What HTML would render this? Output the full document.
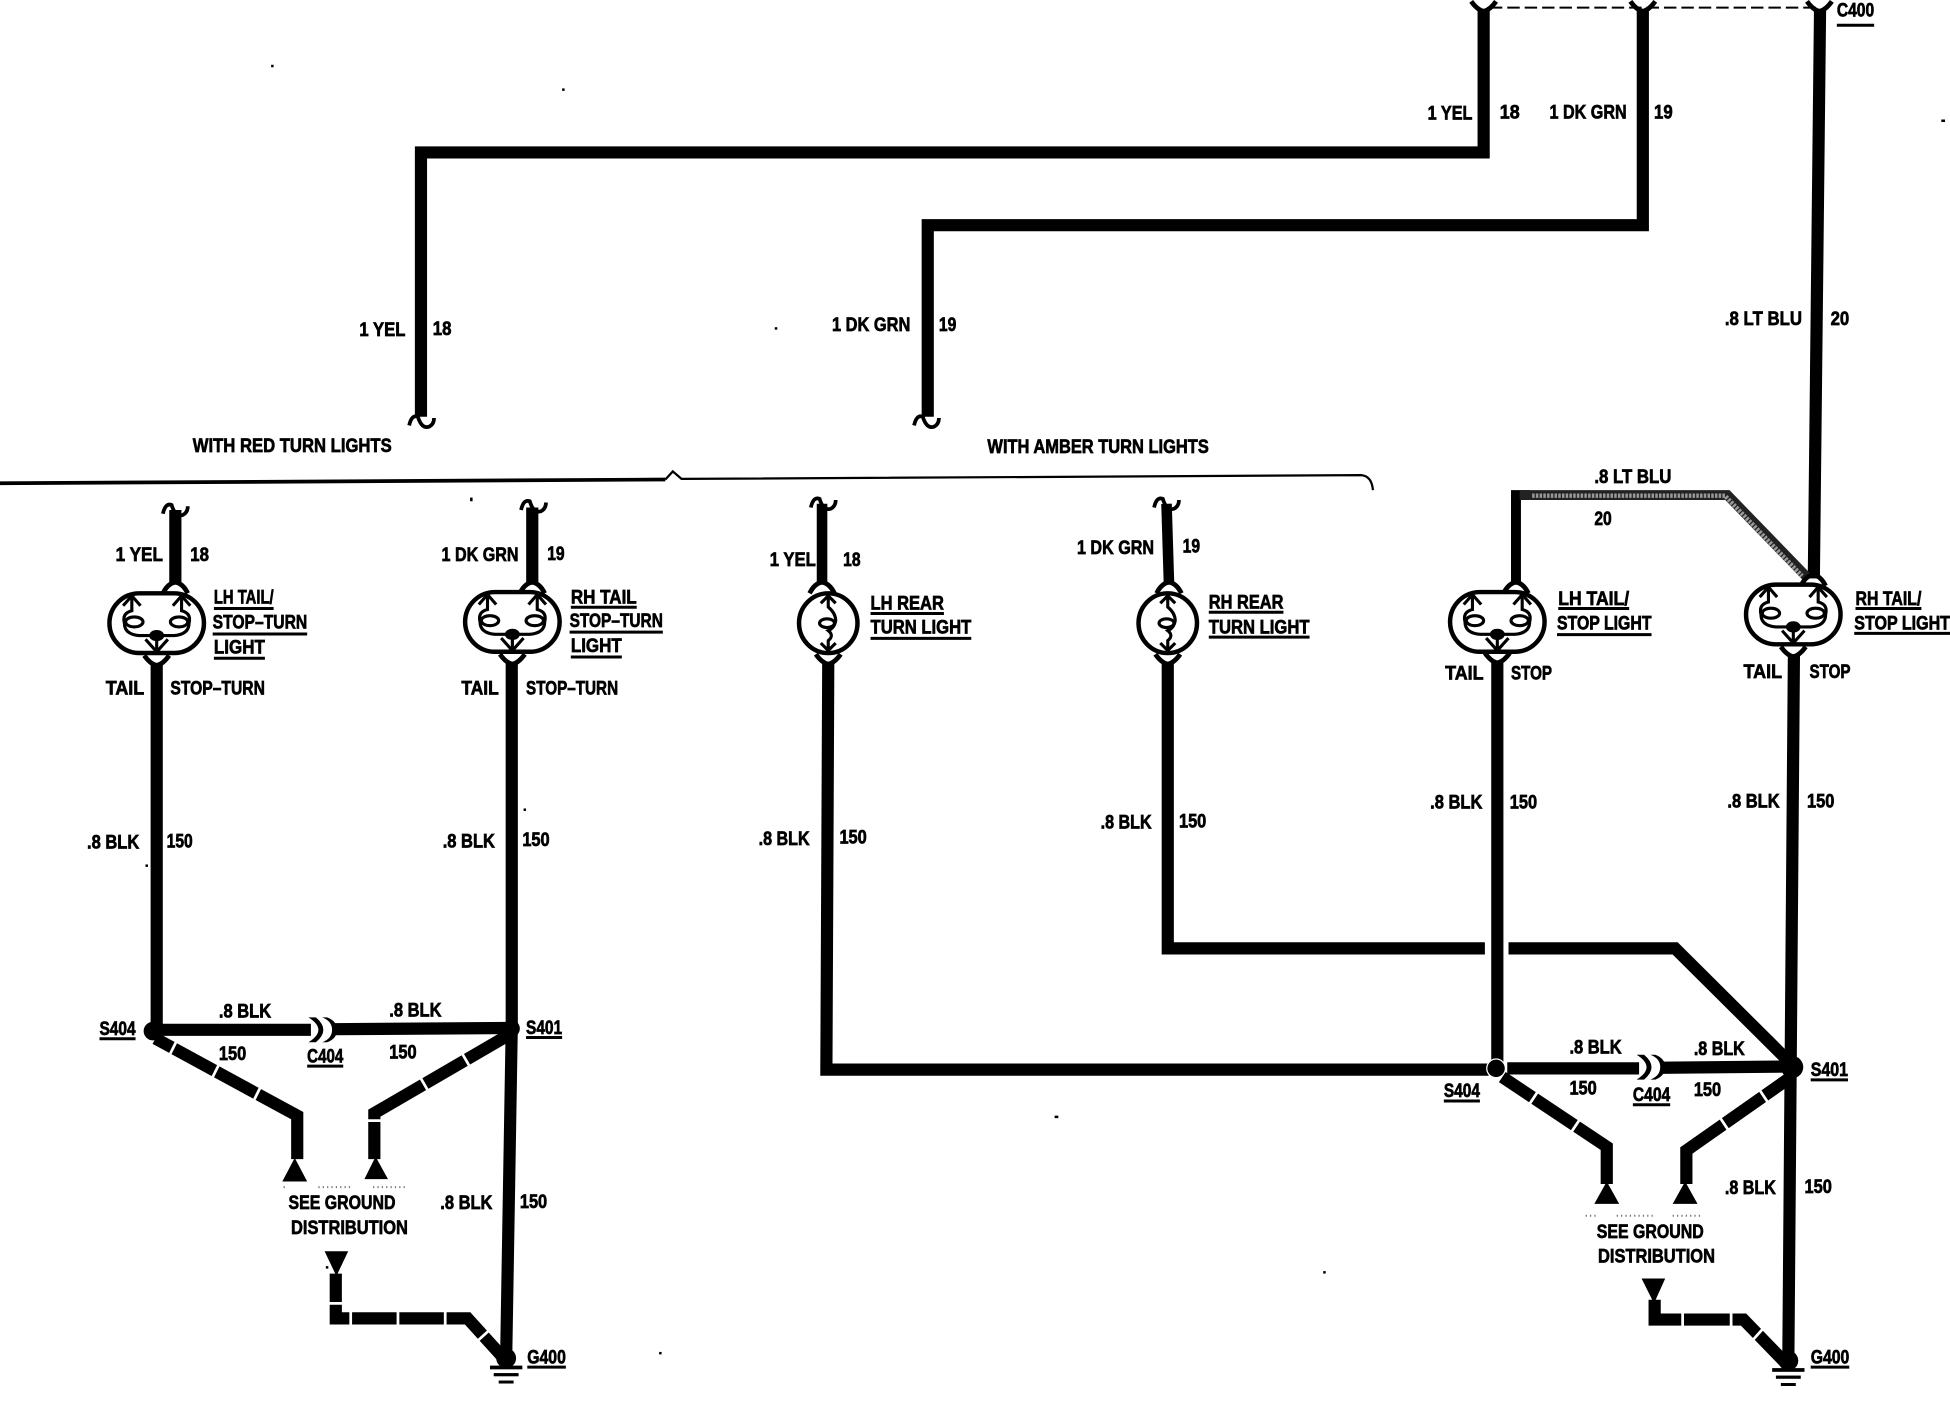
<!DOCTYPE html>
<html><head><meta charset="utf-8"><style>
html,body{margin:0;padding:0;background:#fff}
svg{display:block}
text{font-family:"Liberation Sans",sans-serif;font-weight:700;font-size:15.5px;fill:#000;stroke:#000;stroke-width:.55}
.w{fill:none;stroke:#000;stroke-width:9.8;stroke-linejoin:miter}
.g{fill:none;stroke:#fff;stroke-width:2.2}
.t{fill:none;stroke:#000;stroke-width:2.6}
.u{stroke:#000;stroke-width:2.4}
</style></head><body>
<svg width="1950" height="1408" viewBox="0 0 1568 1132" xmlns="http://www.w3.org/2000/svg">
<defs>
<g id="fd"><path class="t" d="M-10,4 Q-6,-4 0,-5 Q6,-4 10,4" style="stroke-width:3.8"/></g>
<g id="fu"><path class="t" d="M-10,-5 Q-5,2 0,3 Q5,2 10,-5" style="stroke-width:3.8"/></g>
<g id="hook"><path class="t" d="M-10,5 Q-8,-4 -3,-2 Q0,8 6,6 Q10,4 10,-1" style="stroke-width:3"/></g>
<g id="dbl">
<rect x="-38" y="-24" width="76" height="48" rx="24" ry="24" fill="#fff" stroke="#000" stroke-width="3.6"/>
<g fill="none" stroke="#000" stroke-width="2.5">
<path d="M-20,-23V-10Q-28,-8 -26,0Q-26,9 -14,10H-4"/><path d="M-27,-14L-20,-22L-13,-14"/>
<path d="M20,-23V-10Q28,-8 26,0Q26,9 14,10H4"/><path d="M13,-14L20,-22L27,-14"/>
<ellipse cx="-18" cy="-1" rx="7" ry="4"/><ellipse cx="18" cy="-1" rx="7" ry="4"/>
<path d="M-9,13L0,23L9,13M0,12V23"/></g>
<ellipse cx="0" cy="10" rx="6" ry="4.5" fill="#000"/>
</g>
<g id="sgl">
<ellipse rx="23.5" ry="24" fill="#fff" stroke="#000" stroke-width="3.6"/>
<g fill="none" stroke="#000" stroke-width="2.5">
<path d="M-6,-16L0,-22L6,-16M0,-22V-13Q6,-8 6,-2Q5,4 0,6Q5,10 0,14V22M-6,16L0,22L6,16"/>
<ellipse cx="-1" cy="0" rx="6" ry="3.5"/></g>
</g>
<g id="conn"><path d="M-9,-10 Q-1,-5 -1,0 Q-1,5 -9,10 L-3,10 Q3,5 3,0 Q3,-5 -3,-10Z" fill="#000" transform="translate(-1,0)"/><path d="M1,-10 Q9,-7 9,0 Q9,7 1,10 L5,10 Q13,7 13,0 Q13,-7 5,-10Z" fill="#000"/></g>
<g id="gnd"><circle r="8" cx="0" cy="0" fill="#000"/><rect x="-13" y="6" width="26" height="3"/><rect x="-10" y="12" width="20" height="2.6"/><rect x="-6" y="18" width="12" height="2.4"/></g>
</defs>

<path d="M0,388.5L535,385.5" fill="none" stroke="#000" stroke-width="3"/>
<path d="M535,385.5L541,379L548,385L1095,382Q1103,383 1104,394" fill="none" stroke="#000" stroke-width="1.8"/>

<path d="M1198,6H1463" fill="none" stroke="#000" stroke-width="1.6" stroke-dasharray="10 4"/>
<use href="#fu" x="1193" y="6"/><use href="#fu" x="1321" y="6"/><use href="#fu" x="1463" y="6"/>
<path class="w" d="M1193,8V122.5H338.5V335"/>
<path class="w" d="M1321,8V181H746V335"/>
<path class="w" d="M1463.5,8L1458.5,465" />
<use href="#hook" x="339" y="337"/>
<use href="#hook" x="745" y="337"/>

<path class="w" d="M141,410V470"/><path class="w" d="M428,408V470"/>
<path class="w" d="M661,405V470" style="stroke-width:8.5"/><path class="w" d="M938,405L940,470" style="stroke-width:8.5"/>
<use href="#hook" x="141" y="408"/><use href="#hook" x="429" y="405"/><use href="#hook" x="662" y="403"/><use href="#hook" x="938" y="403"/>

<path class="w" d="M1219,470V398H1230" style="stroke-width:8"/>
<path d="M1222,398H1389L1453,464" fill="none" stroke="#222" stroke-width="8"/>
<path d="M1232,398.5H1387L1449,463" fill="none" stroke="#999" stroke-width="3.6" stroke-dasharray="2 1"/>

<use href="#dbl" x="126" y="501"/><use href="#dbl" x="412" y="500"/>
<use href="#sgl" x="666" y="501"/><use href="#sgl" x="939" y="501"/>
<use href="#dbl" x="1204" y="500"/><use href="#dbl" x="1442" y="494"/>
<use href="#fd" x="141" y="473"/><use href="#fd" x="428" y="473"/><use href="#fd" x="661" y="473"/><use href="#fd" x="940" y="473"/><use href="#fd" x="1219" y="473"/><use href="#fd" x="1458" y="467"/>
<use href="#fu" x="126" y="532"/><use href="#fu" x="412" y="531"/><use href="#fu" x="666" y="531"/><use href="#fu" x="939" y="531"/><use href="#fu" x="1204" y="530"/><use href="#fu" x="1442" y="525"/>

<path class="w" d="M126,534V828"/>
<path class="w" d="M411.5,532V826L407,1092"/>
<path class="w" d="M123,828H250"/><path class="w" d="M268,827.5L411,826.5"/>
<use href="#conn" x="258" y="828"/>
<circle cx="123" cy="829" r="7.5"/><circle cx="411" cy="827" r="7"/>
<path class="w" d="M125,835L239,897V932"/>
<path class="w" d="M411,831L301,895V932"/>
<path class="g" d="M142,837L136,849M176,856L170,868M210,873L204,885M295,901H308M371,846L378,858M337.5,865.5L344.5,877.5"/>
<path d="M237,931L247,950H227Z"/><path d="M302,930L312,948H293Z"/>
<path d="M261,1006H280L270.5,1026Z"/>
<path class="w" d="M270,1024V1060H376L405,1092"/>
<path class="g" d="M263,1048H277M282,1052V1066M320,1052V1066M358,1052V1066M383,1079L393,1070"/>
<use href="#gnd" x="407" y="1092"/>

<path class="w" d="M666,533L664.5,860H1197"/>
<path class="w" d="M939,532V762.5H1194"/>
<path class="w" d="M1213,762.5H1347L1440,855"/>
<path class="w" d="M1204,532V858"/>
<path class="w" d="M1442.5,526L1438,1094"/>
<path class="w" d="M1212,859H1318"/><path class="w" d="M1336,858.5L1440,857.5"/>
<use href="#conn" x="1326" y="858"/>
<circle cx="1203" cy="859" r="7.5" fill="#000" stroke="#fff" stroke-width="1"/><circle cx="1441" cy="858" r="9"/>
<path class="w" d="M1208,866L1292,922V952"/>
<path class="w" d="M1440,866L1356,925V952"/>
<path class="g" d="M1237,877L1229,889M1271,899L1263,911M1382,897L1390,909M1414,875L1422,887"/>
<path d="M1292,950L1302,968H1282Z"/><path d="M1355,950L1365,968H1345Z"/>
<path d="M1320,1028H1339L1330,1048Z"/>
<path class="w" d="M1330.5,1045V1061H1402L1435,1095"/>
<path class="g" d="M1353,1053V1068M1392,1053V1068M1408,1079L1417,1069"/>
<use href="#gnd" x="1438" y="1094"/>

<g fill="none" stroke="#777" stroke-width="1.6" stroke-dasharray="1 2.5"><path d="M228,954.5H231M256,954.5H282M300,954.5H328"/><path d="M1275,977.5H1284M1300,977.5H1330M1345,977.5H1367"/></g>
<g fill="#000"><rect x="218" y="52" width="2" height="2"/><rect x="452" y="71" width="2" height="2"/><rect x="623" y="263" width="2" height="2"/><rect x="1561" y="96" width="3" height="2"/><rect x="848" y="897" width="3" height="2"/><rect x="1064" y="1022" width="2" height="2"/><rect x="262" y="1018" width="2" height="2"/><rect x="530" y="1087" width="2" height="2"/><rect x="378" y="400" width="2" height="3"/><rect x="117" y="695" width="2" height="2"/><rect x="421" y="650" width="2" height="2"/></g>

<g transform="translate(0,-0.8)">
<text x="1148" y="97" textLength="36" lengthAdjust="spacingAndGlyphs">1 YEL</text>
<text x="1206" y="96" textLength="16" lengthAdjust="spacingAndGlyphs">18</text>
<text x="1246" y="96" textLength="62" lengthAdjust="spacingAndGlyphs">1 DK GRN</text>
<text x="1330" y="96" textLength="15" lengthAdjust="spacingAndGlyphs">19</text>
<text x="1477" y="14" textLength="30" lengthAdjust="spacingAndGlyphs">C400</text><line class="u" x1="1477" x2="1507" y1="21" y2="21"/>
<text x="289" y="271" textLength="37" lengthAdjust="spacingAndGlyphs">1 YEL</text>
<text x="348" y="270" textLength="15" lengthAdjust="spacingAndGlyphs">18</text>
<text x="669" y="267" textLength="63" lengthAdjust="spacingAndGlyphs">1 DK GRN</text>
<text x="755" y="267" textLength="14" lengthAdjust="spacingAndGlyphs">19</text>
<text x="1387" y="262" textLength="62" lengthAdjust="spacingAndGlyphs">.8 LT BLU</text>
<text x="1472" y="262" textLength="15" lengthAdjust="spacingAndGlyphs">20</text>
<text x="155" y="364" textLength="160" lengthAdjust="spacingAndGlyphs">WITH RED TURN LIGHTS</text>
<text x="794" y="365" textLength="178" lengthAdjust="spacingAndGlyphs">WITH AMBER TURN LIGHTS</text>

<text x="93" y="452" textLength="38" lengthAdjust="spacingAndGlyphs">1 YEL</text>
<text x="153" y="452" textLength="15" lengthAdjust="spacingAndGlyphs">18</text>
<text x="355" y="452" textLength="62" lengthAdjust="spacingAndGlyphs">1 DK GRN</text>
<text x="440" y="451" textLength="14" lengthAdjust="spacingAndGlyphs">19</text>
<text x="619" y="456" textLength="37" lengthAdjust="spacingAndGlyphs">1 YEL</text>
<text x="678" y="456" textLength="14" lengthAdjust="spacingAndGlyphs">18</text>
<text x="866" y="446" textLength="62" lengthAdjust="spacingAndGlyphs">1 DK GRN</text>
<text x="951" y="445" textLength="14" lengthAdjust="spacingAndGlyphs">19</text>

<text x="172" y="486" textLength="48" lengthAdjust="spacingAndGlyphs">LH TAIL/</text><line class="u" x1="172" x2="220" y1="490" y2="490"/>
<text x="171" y="506" textLength="76" lengthAdjust="spacingAndGlyphs">STOP–TURN</text><line class="u" x1="171" x2="247" y1="510.5" y2="510.5"/>
<text x="172" y="526" textLength="41" lengthAdjust="spacingAndGlyphs">LIGHT</text><line class="u" x1="172" x2="213" y1="530" y2="530"/>
<text x="459" y="486" textLength="53" lengthAdjust="spacingAndGlyphs">RH TAIL</text><line class="u" x1="459" x2="512" y1="489" y2="489"/>
<text x="458" y="505" textLength="75" lengthAdjust="spacingAndGlyphs">STOP–TURN</text><line class="u" x1="458" x2="533" y1="509" y2="509"/>
<text x="459" y="525" textLength="41" lengthAdjust="spacingAndGlyphs">LIGHT</text><line class="u" x1="459" x2="500" y1="529" y2="529"/>
<text x="85" y="559" textLength="31" lengthAdjust="spacingAndGlyphs">TAIL</text>
<text x="137" y="559" textLength="76" lengthAdjust="spacingAndGlyphs">STOP–TURN</text>
<text x="371" y="559" textLength="30" lengthAdjust="spacingAndGlyphs">TAIL</text>
<text x="423" y="559" textLength="74" lengthAdjust="spacingAndGlyphs">STOP–TURN</text>
<text x="700" y="491" textLength="59" lengthAdjust="spacingAndGlyphs">LH REAR</text><line class="u" x1="700" x2="759" y1="494" y2="494"/>
<text x="700" y="510" textLength="81" lengthAdjust="spacingAndGlyphs">TURN LIGHT</text><line class="u" x1="700" x2="781" y1="514" y2="514"/>
<text x="972" y="490" textLength="60" lengthAdjust="spacingAndGlyphs">RH REAR</text><line class="u" x1="972" x2="1032" y1="493" y2="493"/>
<text x="972" y="510" textLength="81" lengthAdjust="spacingAndGlyphs">TURN LIGHT</text><line class="u" x1="972" x2="1053" y1="513" y2="513"/>
<text x="1253" y="487" textLength="57" lengthAdjust="spacingAndGlyphs">LH TAIL/</text><line class="u" x1="1253" x2="1310" y1="490" y2="490"/>
<text x="1252" y="507" textLength="76" lengthAdjust="spacingAndGlyphs">STOP LIGHT</text><line class="u" x1="1252" x2="1328" y1="511" y2="511"/>
<text x="1492" y="487" textLength="53" lengthAdjust="spacingAndGlyphs">RH TAIL/</text><line class="u" x1="1492" x2="1545" y1="490" y2="490"/>
<text x="1491" y="507" textLength="77" lengthAdjust="spacingAndGlyphs">STOP LIGHT</text><line class="u" x1="1491" x2="1568" y1="510" y2="510"/>
<text x="1162" y="547" textLength="31" lengthAdjust="spacingAndGlyphs">TAIL</text>
<text x="1215" y="547" textLength="33" lengthAdjust="spacingAndGlyphs">STOP</text>
<text x="1402" y="546" textLength="31" lengthAdjust="spacingAndGlyphs">TAIL</text>
<text x="1455" y="546" textLength="33" lengthAdjust="spacingAndGlyphs">STOP</text>
<text x="1282" y="389" textLength="62" lengthAdjust="spacingAndGlyphs">.8 LT BLU</text>
<text x="1282" y="423" textLength="14" lengthAdjust="spacingAndGlyphs">20</text>

<text x="70" y="683" textLength="42" lengthAdjust="spacingAndGlyphs">.8 BLK</text>
<text x="134" y="682" textLength="21" lengthAdjust="spacingAndGlyphs">150</text>
<text x="356" y="682" textLength="42" lengthAdjust="spacingAndGlyphs">.8 BLK</text>
<text x="420" y="681" textLength="22" lengthAdjust="spacingAndGlyphs">150</text>
<text x="610" y="680" textLength="41" lengthAdjust="spacingAndGlyphs">.8 BLK</text>
<text x="675" y="679" textLength="22" lengthAdjust="spacingAndGlyphs">150</text>
<text x="885" y="667" textLength="41" lengthAdjust="spacingAndGlyphs">.8 BLK</text>
<text x="948" y="666" textLength="22" lengthAdjust="spacingAndGlyphs">150</text>
<text x="1150" y="651" textLength="42" lengthAdjust="spacingAndGlyphs">.8 BLK</text>
<text x="1214" y="651" textLength="22" lengthAdjust="spacingAndGlyphs">150</text>
<text x="1389" y="650" textLength="42" lengthAdjust="spacingAndGlyphs">.8 BLK</text>
<text x="1453" y="650" textLength="22" lengthAdjust="spacingAndGlyphs">150</text>

<text x="176" y="819" textLength="42" lengthAdjust="spacingAndGlyphs">.8 BLK</text>
<text x="176" y="853" textLength="22" lengthAdjust="spacingAndGlyphs">150</text>
<text x="313" y="818" textLength="42" lengthAdjust="spacingAndGlyphs">.8 BLK</text>
<text x="313" y="852" textLength="22" lengthAdjust="spacingAndGlyphs">150</text>
<text x="247" y="855" textLength="29" lengthAdjust="spacingAndGlyphs">C404</text><line class="u" x1="247" x2="276" y1="858" y2="858"/>
<text x="80" y="833" textLength="29" lengthAdjust="spacingAndGlyphs">S404</text><line class="u" x1="80" x2="109" y1="836" y2="836"/>
<text x="423" y="832" textLength="29" lengthAdjust="spacingAndGlyphs">S401</text><line class="u" x1="423" x2="452" y1="835" y2="835"/>
<text x="354" y="973" textLength="42" lengthAdjust="spacingAndGlyphs">.8 BLK</text>
<text x="418" y="972" textLength="22" lengthAdjust="spacingAndGlyphs">150</text>
<text x="232" y="973" textLength="86" lengthAdjust="spacingAndGlyphs">SEE GROUND</text>
<text x="234" y="993" textLength="94" lengthAdjust="spacingAndGlyphs">DISTRIBUTION</text>
<text x="424" y="1097" textLength="31" lengthAdjust="spacingAndGlyphs">G400</text><line class="u" x1="424" x2="455" y1="1100" y2="1100"/>

<text x="1262" y="848" textLength="42" lengthAdjust="spacingAndGlyphs">.8 BLK</text>
<text x="1262" y="881" textLength="22" lengthAdjust="spacingAndGlyphs">150</text>
<text x="1362" y="849" textLength="41" lengthAdjust="spacingAndGlyphs">.8 BLK</text>
<text x="1362" y="882" textLength="22" lengthAdjust="spacingAndGlyphs">150</text>
<text x="1313" y="886" textLength="30" lengthAdjust="spacingAndGlyphs">C404</text><line class="u" x1="1313" x2="1343" y1="889" y2="889"/>
<text x="1161" y="883" textLength="29" lengthAdjust="spacingAndGlyphs">S404</text><line class="u" x1="1161" x2="1190" y1="886" y2="886"/>
<text x="1456" y="866" textLength="30" lengthAdjust="spacingAndGlyphs">S401</text><line class="u" x1="1456" x2="1486" y1="869" y2="869"/>
<text x="1387" y="961" textLength="41" lengthAdjust="spacingAndGlyphs">.8 BLK</text>
<text x="1451" y="960" textLength="22" lengthAdjust="spacingAndGlyphs">150</text>
<text x="1284" y="996" textLength="86" lengthAdjust="spacingAndGlyphs">SEE GROUND</text>
<text x="1285" y="1016" textLength="94" lengthAdjust="spacingAndGlyphs">DISTRIBUTION</text>
<text x="1456" y="1097" textLength="31" lengthAdjust="spacingAndGlyphs">G400</text><line class="u" x1="1456" x2="1487" y1="1100" y2="1100"/>
</g>
</svg>
</body></html>
